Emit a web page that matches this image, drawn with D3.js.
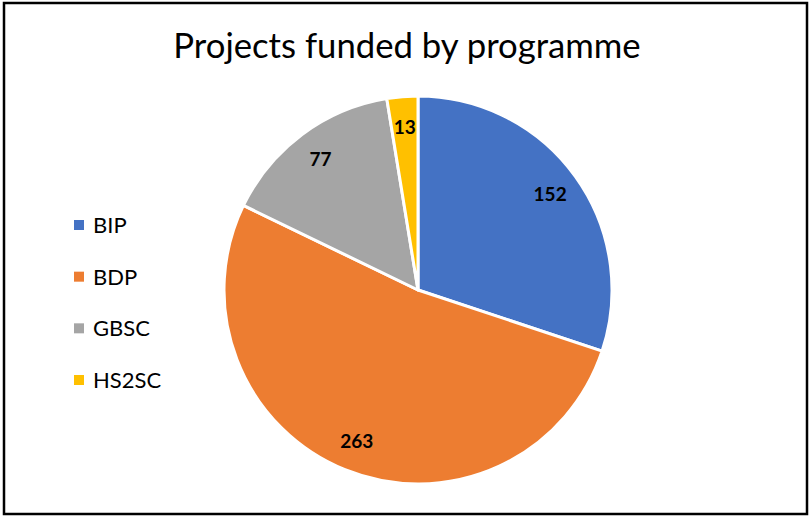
<!DOCTYPE html>
<html>
<head>
<meta charset="utf-8">
<script src="https://cdn.jsdelivr.net/npm/d3@7"></script>
<style>
  html, body { margin: 0; padding: 0; background: #fff; }
  svg { display: block; }
</style>
</head>
<body>
<svg id="chart" width="811" height="516"></svg>
<script>
// Projects funded by programme
const title = "Projects funded by programme";
const programmes = ["BIP", "BDP", "GBSC", "HS2SC"];
const projectCounts = [152, 263, 77, 13];
const colours = ["#4472C4", "#ED7D31", "#A5A5A5", "#FFC000"];

const width = 811, height = 516;
const svg = d3.select("#chart");
const font = "Lato, 'Open Sans', sans-serif";

// chart frame
svg.append("rect")
  .attr("x", 4).attr("y", 3)
  .attr("width", 803).attr("height", 511)
  .attr("fill", "#fff")
  .attr("stroke", "#000")
  .attr("stroke-width", 2.5);

svg.append("text")
  .attr("x", 407).attr("y", 58)
  .attr("text-anchor", "middle")
  .attr("font-family", font)
  .attr("font-size", 34.7)
  .attr("fill", "#000")
  .text(title);

const cx = 418, cy = 290, radius = 194;
const data = programmes.map((p, i) => ({ name: p, value: projectCounts[i] }));

const colour = d3.scaleOrdinal().domain(programmes).range(colours);
const pie = d3.pie().value(d => d.value).sort(null);
const arc = d3.arc().innerRadius(0).outerRadius(radius);
const labelArc = d3.arc().innerRadius(radius * 0.84).outerRadius(radius * 0.84);

const g = svg.append("g").attr("transform", `translate(${cx},${cy})`);
const arcs = pie(data);

g.selectAll("path.slice")
  .data(arcs)
  .join("path")
  .attr("class", "slice")
  .attr("d", arc)
  .attr("fill", d => colour(d.data.name))
  .attr("stroke", "#fff")
  .attr("stroke-width", 3)
  .attr("stroke-linejoin", "round");

g.selectAll("text.value")
  .data(arcs)
  .join("text")
  .attr("class", "value")
  .attr("transform", d => `translate(${labelArc.centroid(d)})`)
  .attr("text-anchor", "middle")
  .attr("dy", "0.36em")
  .attr("font-family", font)
  .attr("font-weight", "bold")
  .attr("font-size", 19)
  .attr("fill", "#000")
  .text(d => d.data.value);

// legend
const legendY = d3.scalePoint().domain(programmes).range([225, 380]);
const legend = svg.append("g");
const item = legend.selectAll("g")
  .data(programmes)
  .join("g")
  .attr("transform", d => `translate(74,${legendY(d)})`);
item.append("rect")
  .attr("x", 0).attr("y", -5)
  .attr("width", 10).attr("height", 10)
  .attr("fill", d => colour(d));
item.append("text")
  .attr("x", 19).attr("y", 0)
  .attr("dy", "0.36em")
  .attr("font-family", font)
  .attr("font-size", 22)
  .attr("fill", "#000")
  .text(d => d);
</script>
</body>
</html>
